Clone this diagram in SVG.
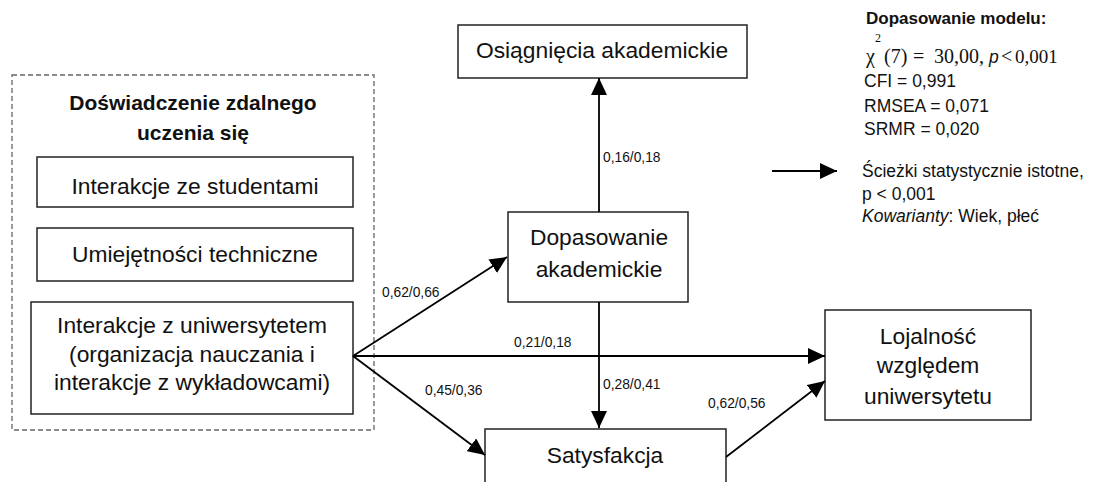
<svg xmlns="http://www.w3.org/2000/svg" width="1098" height="482" viewBox="0 0 1098 482">
<style>
.box{fill:#fff;stroke:#222;stroke-width:1.5}
.t{font-family:"Liberation Sans",Arial,sans-serif;font-size:22.8px;fill:#111;text-anchor:middle}
.lbl{font-family:"Liberation Sans",Arial,sans-serif;font-size:13.8px;fill:#111}
.leg{font-family:"Liberation Sans",Arial,sans-serif;font-size:17.5px;fill:#111}
.ser{font-family:"Liberation Serif","Times New Roman",serif;font-size:20px;fill:#111}
.con{stroke:#000;stroke-width:1.8;fill:none;marker-end:url(#ah)}
</style>
<defs>
<marker id="ah" markerUnits="userSpaceOnUse" markerWidth="18" markerHeight="16" refX="17" refY="8" orient="auto">
<path d="M0,0 L17,8 L0,16 Z" fill="#000"/>
</marker>
</defs>
<rect width="1098" height="482" fill="#fff"/>

<g id="group-experience">
<rect x="12" y="75" width="362" height="355" fill="none" stroke="#666" stroke-width="1.3" stroke-dasharray="5,3"/>
<text class="t" x="193" y="110" style="font-weight:bold;font-size:21px">Doświadczenie zdalnego</text>
<text class="t" x="193" y="140" style="font-weight:bold;font-size:21px">uczenia się</text>
</g>
<g id="node-students">
<rect class="box" x="37" y="157" width="316" height="50"/>
<text class="t" x="195" y="194">Interakcje ze studentami</text>
</g>
<g id="node-technical">
<rect class="box" x="37" y="228" width="316" height="53"/>
<text class="t" x="195" y="262">Umiejętności techniczne</text>
</g>
<g id="node-university">
<rect class="box" x="31" y="302" width="322" height="112"/>
<text class="t" x="192" y="333">Interakcje z uniwersytetem</text>
<text class="t" x="192" y="362">(organizacja nauczania i</text>
<text class="t" x="192" y="390">interakcje z wykładowcami)</text>
</g>
<g id="node-achievement">
<rect class="box" x="458" y="25" width="289" height="53"/>
<text class="t" x="602" y="58">Osiągnięcia akademickie</text>
</g>
<g id="node-adjustment">
<rect class="box" x="508" y="212" width="180" height="90"/>
<text class="t" x="599" y="245">Dopasowanie</text>
<text class="t" x="599" y="277">akademickie</text>
</g>
<g id="node-satisfaction">
<rect class="box" x="485" y="429" width="241" height="70"/>
<text class="t" x="605" y="463">Satysfakcja</text>
</g>
<g id="node-loyalty">
<rect class="box" x="825" y="310" width="206" height="110"/>
<text class="t" x="928" y="344">Lojalność</text>
<text class="t" x="928" y="373">względem</text>
<text class="t" x="928" y="404">uniwersytetu</text>
</g>

<g id="connectors">
<line class="con" x1="599" y1="212" x2="599" y2="78"/>
<line class="con" x1="599" y1="302" x2="599" y2="428"/>
<line class="con" x1="353" y1="356" x2="507" y2="257"/>
<line class="con" x1="353" y1="356" x2="825" y2="356"/>
<line class="con" x1="353" y1="356" x2="485" y2="455"/>
<line class="con" x1="726" y1="457" x2="825" y2="381"/>
<text class="lbl" x="603" y="162">0,16/0,18</text>
<text class="lbl" x="382" y="297">0,62/0,66</text>
<text class="lbl" x="514" y="347">0,21/0,18</text>
<text class="lbl" x="425" y="395">0,45/0,36</text>
<text class="lbl" x="603" y="389">0,28/0,41</text>
<text class="lbl" x="708" y="408">0,62/0,56</text>
</g>

<g id="legend">
<text class="leg" x="866" y="24" style="font-weight:bold;font-size:17px">Dopasowanie modelu:</text>
<text class="ser" x="875" y="42" style="font-size:12px">2</text>
<text class="ser" x="866" y="63">χ</text>
<text class="ser" x="884" y="63">(7)</text>
<text class="ser" x="913" y="63">=</text>
<text class="ser" x="934" y="63">30,00,</text>
<text class="leg" x="989" y="63" style="font-style:italic">p</text>
<text class="ser" x="1001" y="63">&lt;</text>
<text class="ser" x="1015" y="63" style="font-size:19px">0,001</text>
<text class="leg" x="864" y="87">CFI = 0,991</text>
<text class="leg" x="864" y="112">RMSEA = 0,071</text>
<text class="leg" x="864" y="135">SRMR = 0,020</text>
<line class="con" x1="772" y1="171" x2="837" y2="171"/>
<text class="leg" x="862" y="177">Ścieżki statystycznie istotne,</text>
<text class="leg" x="862" y="200">p &lt; 0,001</text>
<text class="leg" x="862" y="222"><tspan style="font-style:italic">Kowarianty</tspan>: Wiek, płeć</text>
</g>
</svg>
